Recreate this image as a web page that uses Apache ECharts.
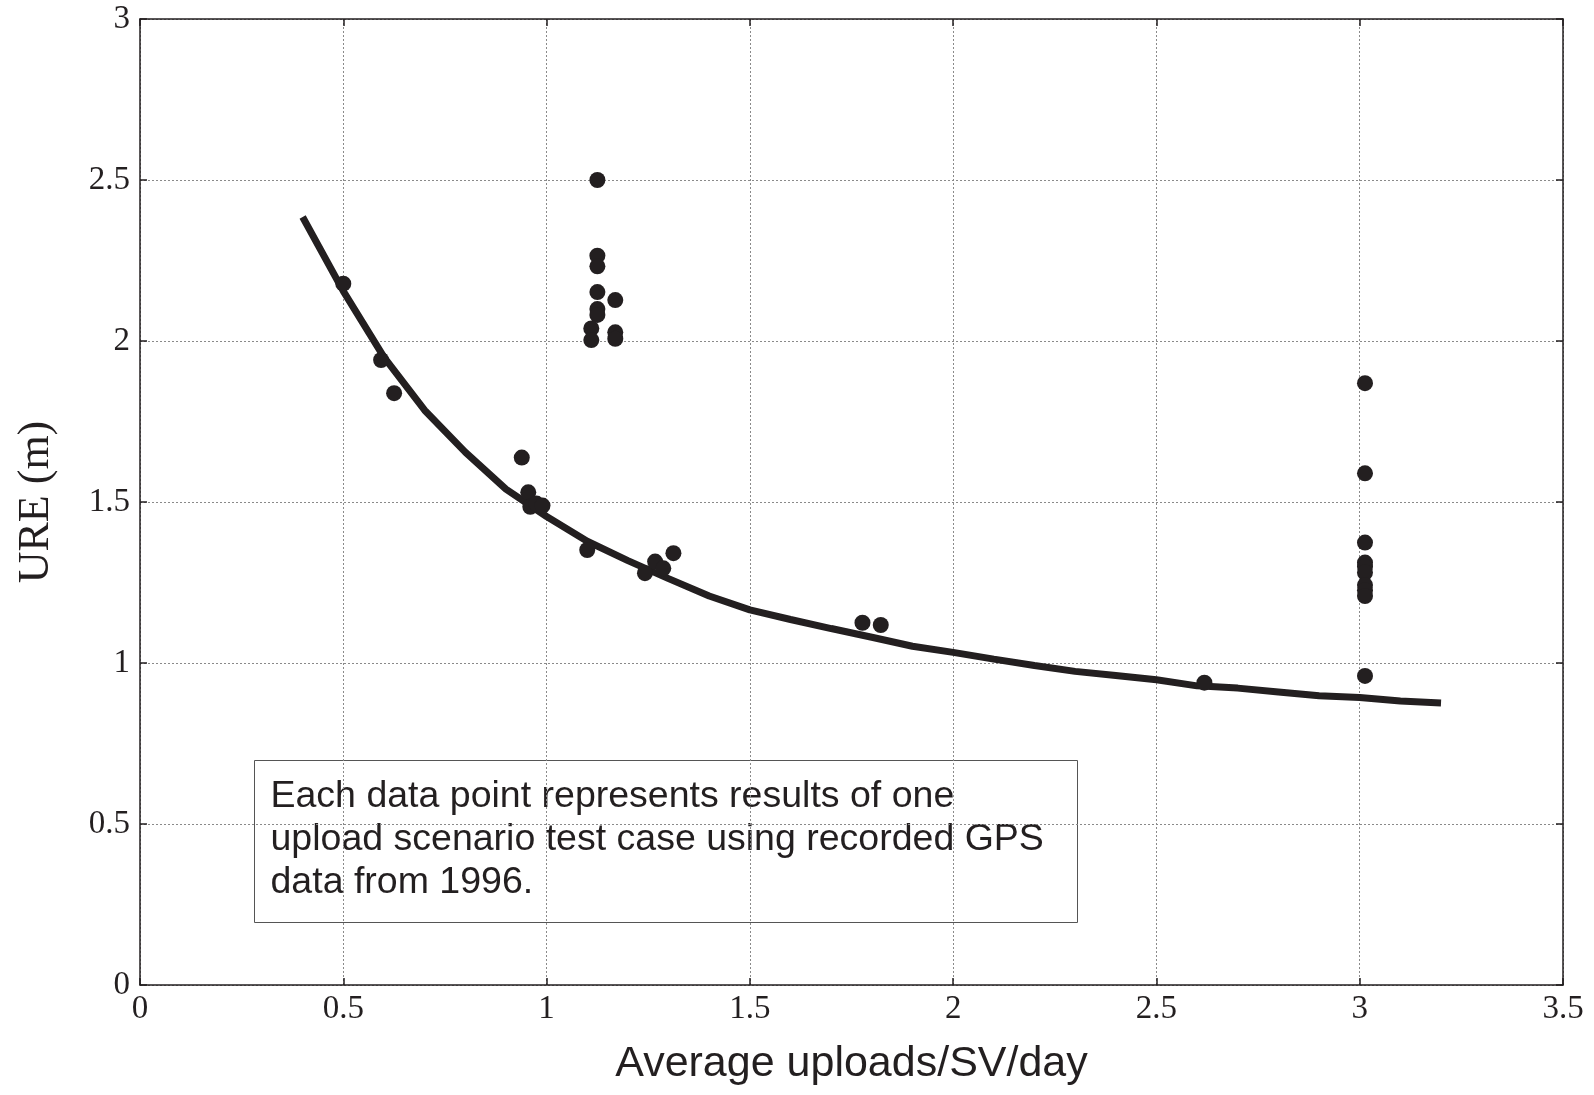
<!DOCTYPE html>
<html>
<head>
<meta charset="utf-8">
<script src="https://cdn.jsdelivr.net/npm/echarts@6/dist/echarts.min.js"></script>
<style>
html,body{margin:0;padding:0;background:#fff;}
#chart{width:1594px;height:1095px;}
</style>
</head>
<body>
<div id="chart"></div>
<script>
// Scatter points (uploads/SV/day, URE m)
const scatterX = [0.50, 0.593, 0.625, 0.939, 0.955, 0.96, 0.975, 0.99, 1.10, 1.242, 1.267, 1.287, 1.312,
  1.125, 1.125, 1.125, 1.125, 1.169, 1.125, 1.125, 1.110, 1.110, 1.169, 1.169,
  1.777, 1.822, 2.618,
  3.013, 3.013, 3.013, 3.013, 3.013, 3.013, 3.013, 3.013, 3.013, 3.013];
const scatterY = [2.178, 1.941, 1.838, 1.638, 1.53, 1.485, 1.495, 1.489, 1.351, 1.279, 1.315, 1.294, 1.341,
  2.500, 2.265, 2.232, 2.152, 2.127, 2.099, 2.081, 2.039, 2.003, 2.027, 2.007,
  1.125, 1.118, 0.939,
  1.869, 1.589, 1.374, 1.312, 1.299, 1.281, 1.242, 1.226, 1.208, 0.960];

// Fitted curve
const curveX = [0.4,0.5,0.6,0.7,0.8,0.9,1.0,1.1,1.2,1.3,1.4,1.5,1.6,1.7,1.8,1.9,2.0,2.1,2.2,2.3,2.4,2.5,2.6,2.7,2.8,2.9,3.0,3.1,3.2];
const curveY = [2.385,2.155,1.95,1.785,1.655,1.54,1.455,1.378,1.318,1.262,1.208,1.165,1.135,1.107,1.08,1.052,1.033,1.012,0.992,0.974,0.961,0.948,0.929,0.922,0.91,0.898,0.893,0.882,0.876];

const xTicks = [0, 0.5, 1, 1.5, 2, 2.5, 3, 3.5];
const yTicks = [0, 0.5, 1, 1.5, 2, 2.5, 3];

const xName = 'Average uploads/SV/day';
const yName = 'URE (m)';
const noteLines = [
  'Each data point represents results of one',
  'upload scenario test case using recorded GPS',
  'data from 1996.'
];

const ink = '#231f20';
const serif = '"Liberation Serif","Times New Roman",serif';
const sans = '"Liberation Sans",Arial,sans-serif';

const chart = echarts.init(document.getElementById('chart'), null, {renderer: 'canvas'});

const axisCommon = {
  type: 'value',
  axisLine: {show: true, onZero: false, lineStyle: {color: ink, width: 1.5}},
  axisTick: {show: true, inside: true, length: 7, lineStyle: {color: ink, width: 1.5}},
};

chart.setOption({
  animation: false,
  backgroundColor: '#ffffff',
  grid: {left: 140, right: 31, top: 19, bottom: 110, containLabel: false},
  xAxis: [
    Object.assign({}, axisCommon, {
      min: xTicks[0], max: xTicks[xTicks.length - 1], interval: 0.5,
      position: 'bottom',
      name: xName, nameLocation: 'middle', nameGap: 58,
      nameTextStyle: {fontFamily: sans, fontSize: 43, color: ink},
      axisLabel: {fontFamily: serif, fontSize: 33, color: ink, margin: 8},
      splitLine: {show: true, lineStyle: {color: '#8a8a8a', type: [2, 2], width: 1}}
    }),
    Object.assign({}, axisCommon, {
      min: xTicks[0], max: xTicks[xTicks.length - 1], interval: 0.5,
      position: 'top', axisLabel: {show: false}, splitLine: {show: false}
    })
  ],
  yAxis: [
    Object.assign({}, axisCommon, {
      min: yTicks[0], max: yTicks[yTicks.length - 1], interval: 0.5,
      position: 'left',
      name: yName, nameLocation: 'middle', nameGap: 82, nameRotate: 90,
      nameTextStyle: {fontFamily: serif, fontSize: 44, color: ink},
      axisLabel: {fontFamily: serif, fontSize: 33, color: ink, margin: 10},
      splitLine: {show: true, lineStyle: {color: '#8a8a8a', type: [2, 2], width: 1}}
    }),
    Object.assign({}, axisCommon, {
      min: yTicks[0], max: yTicks[yTicks.length - 1], interval: 0.5,
      position: 'right', axisLabel: {show: false}, splitLine: {show: false}
    })
  ],
  series: [
    {
      type: 'line',
      data: curveX.map((x, i) => [x, curveY[i]]),
      showSymbol: false,
      symbol: 'none',
      lineStyle: {color: ink, width: 7},
      z: 2
    },
    {
      type: 'scatter',
      data: scatterX.map((x, i) => [x, scatterY[i]]),
      symbol: 'circle',
      symbolSize: 16,
      itemStyle: {color: ink, opacity: 1},
      z: 3
    }
  ],
  graphic: [
    {
      type: 'group',
      left: 254, top: 760,
      z: 10,
      children: [
        {
          type: 'rect',
          shape: {x: 0, y: 0, width: 823, height: 162},
          style: {fill: '#ffffff', stroke: '#555555', lineWidth: 1}
        },
        {
          type: 'text',
          x: 16, y: 15,
          style: {
            text: noteLines.join('\n'),
            font: '37.5px ' + sans,
            lineHeight: 43,
            fill: ink
          }
        }
      ]
    }
  ]
});
</script>
</body>
</html>
